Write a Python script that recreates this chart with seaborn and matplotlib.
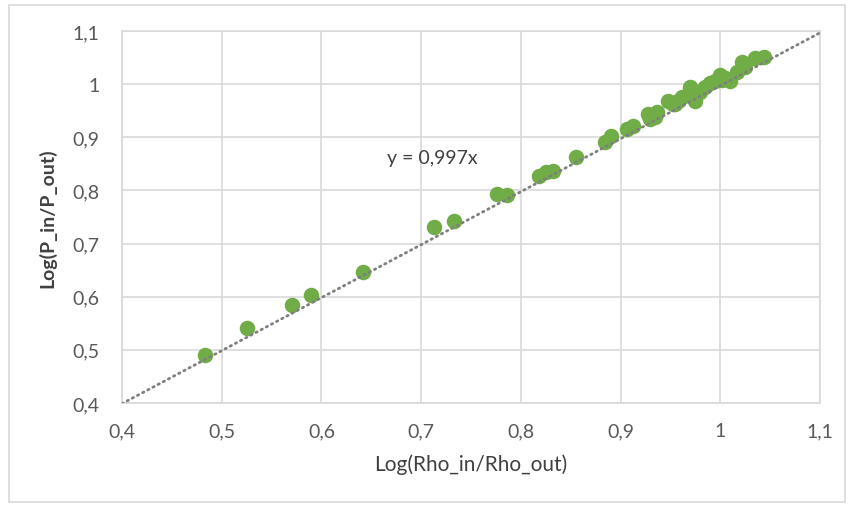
import numpy as np
import pandas as pd
import matplotlib
matplotlib.use("Agg")
import matplotlib.pyplot as plt
from matplotlib.patches import Rectangle
from matplotlib.ticker import FuncFormatter, MultipleLocator
import seaborn as sns

# valori
log_rho = [0.483, 0.525, 0.570, 0.590, 0.642, 0.713, 0.733, 0.776, 0.786, 0.818,
           0.825, 0.832, 0.855, 0.884, 0.890, 0.906, 0.912, 0.928, 0.930, 0.935,
           0.937, 0.948, 0.953, 0.955, 0.958, 0.962, 0.970, 0.970, 0.975, 0.977,
           0.980, 0.985, 0.990, 0.995, 1.000, 1.002, 1.005, 1.010, 1.017, 1.022,
           1.025, 1.035, 1.044]
log_p = [0.490, 0.541, 0.584, 0.603, 0.646, 0.731, 0.742, 0.793, 0.791, 0.827,
         0.834, 0.836, 0.862, 0.892, 0.902, 0.915, 0.921, 0.943, 0.934, 0.939,
         0.947, 0.968, 0.962, 0.962, 0.968, 0.975, 0.985, 0.994, 0.968, 0.986,
         0.985, 0.995, 1.003, 1.005, 1.018, 1.008, 1.012, 1.005, 1.022, 1.041,
         1.033, 1.050, 1.052]
slope = 0.997
trend_x = [0.4, 1.1]

df = pd.DataFrame({"rho": log_rho, "p": log_p})
trend = pd.DataFrame({"x": trend_x, "y": [slope * v for v in trend_x]})

sns.set_theme(style="whitegrid")
plt.rcParams["font.family"] = ["Lato", "DejaVu Sans"]

fig = plt.figure(figsize=(8.52, 5.06), dpi=100)
ax = fig.add_axes([122 / 852, 1 - 404 / 506, (820 - 122) / 852, (404 - 32) / 506])

sns.lineplot(data=trend, x="x", y="y", ax=ax, color="#7F7F7F", lw=2.0,
             linestyle=(0, (0.5, 1.6)), dash_capstyle="round", zorder=3)
sns.scatterplot(data=df, x="rho", y="p", ax=ax, color="#70AD47", s=125,
                edgecolor="#70AD47", linewidth=0, zorder=2)

ax.set_xlim(0.4, 1.1)
ax.set_ylim(0.4, 1.1)
ax.xaxis.set_major_locator(MultipleLocator(0.1))
ax.yaxis.set_major_locator(MultipleLocator(0.1))
fmt = FuncFormatter(lambda v, p: f"{round(v, 1):g}".replace(".", ","))
ax.xaxis.set_major_formatter(fmt)
ax.yaxis.set_major_formatter(fmt)

ax.grid(True, color="#D9D9D9", lw=1.2)
for s in ax.spines.values():
    s.set_color("#D9D9D9")
    s.set_linewidth(1.2)
ax.tick_params(length=0, labelsize=14, labelcolor="#595959")
ax.tick_params(axis="x", pad=14)
ax.tick_params(axis="y", pad=16)

ax.set_xlabel("Log(Rho_in/Rho_out)", fontsize=15, color="#404040", labelpad=10)
ax.set_ylabel("Log(P_in/P_out)", fontsize=14, color="#404040", fontweight="bold",
              labelpad=12)

ax.text(0.666, 0.862, "y = 0,997x", fontsize=14, color="#404040", va="center")

fig.patches.append(Rectangle((9 / 852, 0.005), 836 / 852, 1 - 6 / 506 - 0.005,
                             transform=fig.transFigure, fill=False,
                             edgecolor="#D9D9D9", lw=1.2))

fig.savefig("out.png", dpi=100)
